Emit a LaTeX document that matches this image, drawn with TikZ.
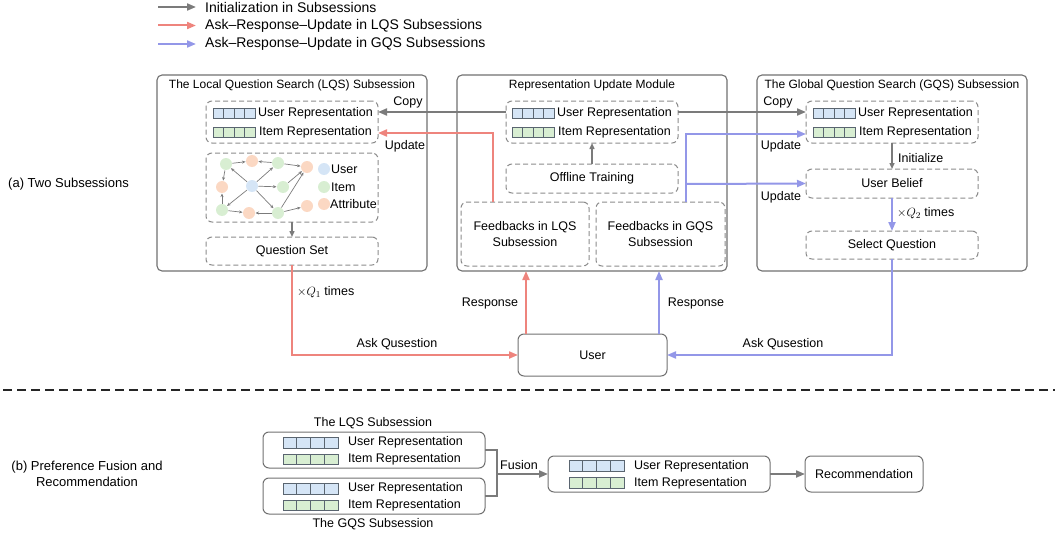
\documentclass[tikz,border=0pt]{standalone}
\usepackage{fontspec}
\setmainfont{Liberation Sans}
\usetikzlibrary{arrows.meta,calc}
\definecolor{cgray}{HTML}{7B7B7B}
\definecolor{cred}{HTML}{EE847D}
\definecolor{cblue}{HTML}{9397E8}
\definecolor{cborder}{HTML}{707070}
\definecolor{cdash}{HTML}{8C8C8C}
\definecolor{fblue}{HTML}{D5E5F6}
\definecolor{fgreen}{HTML}{D8EED2}
\definecolor{forange}{HTML}{FBD8C3}
\definecolor{ccell}{HTML}{5A6570}
\newcommand\mkbox[7]{\node[#6, minimum width={(#4)-(#2)}, minimum height={(#5)-(#3)}] (#1) at ({((#2)+(#4))/2},{((#3)+(#5))/2}) {#7};}
\newcommand\cellbar[5]{\foreach \i in {0,1,2,3}{\draw[cellst, fill=#5] ({#1+\i*#3},#2) rectangle ++(#3,#4);}}
\begin{document}
\begin{tikzpicture}[x=1pt,y=-1pt,
  font=\fontsize{12.5}{15}\selectfont,
  outerbox/.style={draw=cborder, line width=1.1pt, rounded corners=5pt, inner sep=0pt, outer sep=0pt},
  dbox/.style={draw=cdash, dash pattern=on 5pt off 3pt, line width=1pt, rounded corners=6pt, inner sep=0pt, outer sep=0pt, align=center},
  sbox/.style={draw=cborder, line width=1pt, rounded corners=6pt, inner sep=0pt, outer sep=0pt, align=center},
  garr/.style={draw=cgray, line width=2pt, -{Triangle[length=9pt,width=7pt]}},
  gline/.style={draw=cgray, line width=2pt},
  garrthin/.style={draw=cgray, line width=1.4pt, -{Triangle[length=6pt,width=5pt]}},
  rarr/.style={draw=cred, line width=2pt, -{Triangle[length=9pt,width=7pt]}},
  barr/.style={draw=cblue, line width=2pt, -{Triangle[length=9pt,width=7pt]}},
  gedge/.style={draw=cgray, line width=0.7pt, -{Stealth[length=3.5pt,width=3pt]}},
  circ/.style={circle, minimum size=12pt, inner sep=0pt, outer sep=0.5pt},
  cellst/.style={draw=ccell, line width=0.8pt},
  lbl/.style={inner sep=0pt},
  ttl/.style={inner sep=0pt, font=\fontsize{12}{14}\selectfont},
  lgd/.style={inner sep=0pt, anchor=west, font=\fontsize{14}{16}\selectfont},
  side/.style={inner sep=0pt, font=\fontsize{13}{16.5}\selectfont, align=center}
]
\useasboundingbox (0,0) rectangle (1063,535);

% legend
\coordinate (l1a) at (158,7); \coordinate (l1b) at (196,7);
\coordinate (l2a) at (158,25.5); \coordinate (l2b) at (196,25.5);
\coordinate (l3a) at (158,44); \coordinate (l3b) at (196,44);
\draw[garr] (l1a) -- (l1b);
\draw[rarr] (l2a) -- (l2b);
\draw[barr] (l3a) -- (l3b);
\node[lgd] (lg1) at (205,7) {Initialization in Subsessions};
\node[lgd] (lg2) at (205,25.5) {Ask--Response--Update in LQS Subsessions};
\node[lgd] (lg3) at (205,44) {Ask--Response--Update in GQS Subsessions};

% side labels
\node[side, anchor=west] (sa) at (8,184) {(a) Two Subsessions};
\node[side] (sb) at (87,474) {(b) Preference Fusion and\\Recommendation};

% outer boxes
\mkbox{lqs}{157}{75}{427}{271}{outerbox}{}
\mkbox{mid}{457}{75}{727}{271}{outerbox}{}
\mkbox{gqs}{757}{75}{1027}{271}{outerbox}{}
\node[ttl] (tl) at (292,85) {The Local Question Search (LQS) Subsession};
\node[ttl] (tm) at (592,85) {Representation Update Module};
\node[ttl] (tg) at (892,85) {The Global Question Search (GQS) Subsession};

% LQS inner
\mkbox{lqsrep}{206}{101}{378}{143}{dbox}{}
\cellbar{213}{108.5}{10.5}{9.5}{fblue}
\cellbar{213}{127.5}{10.5}{9.5}{fgreen}
\node[lbl, anchor=west] (lu) at (258,113.5) {User Representation};
\node[lbl, anchor=west] (li) at (259,132.5) {Item Representation};
\mkbox{graph}{206}{153}{378}{222}{dbox}{}
\mkbox{qset}{206}{237}{378}{265}{dbox}{Question Set}

% graph nodes
\node[circ, fill=fgreen] (g1) at (226,164) {};
\node[circ, fill=forange] (a1) at (252,161) {};
\node[circ, fill=fgreen] (g2) at (278,163) {};
\node[circ, fill=forange] (a2) at (307,167) {};
\node[circ, fill=forange] (a3) at (222,187) {};
\node[circ, fill=fblue] (u) at (252,186) {};
\node[circ, fill=fgreen] (g3) at (283,187) {};
\node[circ, fill=fgreen] (g4) at (222,210) {};
\node[circ, fill=forange] (a4) at (249,213) {};
\node[circ, fill=fgreen] (g5) at (278,213) {};
\node[circ, fill=forange] (a5) at (307,206) {};
\draw[gedge] (g1) -- (a1);
\draw[gedge] (g2) -- (a1);
\draw[gedge] (g2) -- (a2);
\draw[gedge] (u) -- (g1);
\draw[gedge] (u) -- (g2);
\draw[gedge] (u) -- (g3);
\draw[gedge] (u) -- (g4);
\draw[gedge] (u) -- (g5);
\draw[gedge] (g1) -- (a3);
\draw[gedge] (g4) -- (a3);
\draw[gedge] (g4) -- (a4);
\draw[gedge] (g5) -- (a4);
\draw[gedge] (g3) -- (a2);
\draw[gedge] (g5) -- (a2);
\draw[gedge] (g5) -- (a5);
\node[circ, fill=fblue] (ku) at (324,169) {};
\node[circ, fill=fgreen] (ki) at (324,187) {};
\node[circ, fill=forange] (ka) at (324,204) {};
\node[lbl, anchor=west] (kut) at (331,169) {User};
\node[lbl, anchor=west] (kit) at (331,187) {Item};
\node[lbl, anchor=west] (kat) at (330,204) {Attribute};
\draw[garrthin] (graph.south) -- (qset.north);

% middle inner
\mkbox{midrep}{506}{101}{678}{143}{dbox}{}
\cellbar{512}{108.5}{10.5}{9.5}{fblue}
\cellbar{512}{127.5}{10.5}{9.5}{fgreen}
\node[lbl, anchor=west] (mu) at (557,113.5) {User Representation};
\node[lbl, anchor=west] (mi) at (558,132.5) {Item Representation};
\mkbox{offline}{506}{164}{678}{193}{dbox}{Offline Training}
\mkbox{fbl}{461}{202}{589}{266}{dbox}{Feedbacks in LQS\\[1pt]Subsession}
\mkbox{fbg}{596}{202}{725}{266}{dbox}{Feedbacks in GQS\\[1pt]Subsession}
\draw[garrthin] (offline.north) -- (midrep.south);

% GQS inner
\mkbox{gqsrep}{806}{101}{978}{143}{dbox}{}
\cellbar{813}{108.5}{10.5}{9.5}{fblue}
\cellbar{813}{127.5}{10.5}{9.5}{fgreen}
\node[lbl, anchor=west] (gu) at (858,113.5) {User Representation};
\node[lbl, anchor=west] (gi) at (859,132.5) {Item Representation};
\mkbox{belief}{806}{169}{978}{198}{dbox}{User Belief}
\mkbox{selq}{806}{231}{978}{259}{dbox}{Select Question}
\draw[garrthin] (gqsrep.south) -- (belief.north);
\node[lbl, anchor=west] (init) at (898,158) {Initialize};
\draw[barr] (belief.south) -- (selq.north);
\node[lbl, anchor=west] (q2) at (897,213) {$\times Q_2$ times};

% copy arrows
\draw[garr] (midrep.west |- 0,112) -- (lqsrep.east |- 0,112);
\draw[garr] (midrep.east |- 0,112) -- (gqsrep.west |- 0,112);
\node[lbl] (cp1) at (408,102) {Copy};
\node[lbl] (cp2) at (778,102) {Copy};

% update arrows
\draw[rarr] (fbl.north -| 493,0) |- (lqsrep.east |- 0,133);
\node[lbl] (up1) at (405,146) {Update};
\coordinate (bj) at (686,184);
\draw[barr] (fbg.north -| 686,0) |- (gqsrep.west |- 0,134);
\draw[barr] (bj) -- (belief.west);
\node[lbl] (up2) at (781,146) {Update};
\node[lbl] (up3) at (781,197) {Update};

% user
\mkbox{user}{518}{334}{667}{376}{sbox}{User}
\draw[rarr] (qset.south) |- (user.west);
\node[lbl, anchor=west] (q1) at (297,292) {$\times Q_1$ times};
\node[lbl] (ask1) at (397,344) {Ask Qusestion};
\draw[barr] (selq.south) |- (user.east);
\node[lbl] (ask2) at (783,344) {Ask Qusestion};
\draw[rarr] (user.north -| 526,0) -- (mid.south -| 526,0);
\node[lbl] (rs1) at (490,303) {Response};
\draw[barr] (user.north -| 659,0) -- (mid.south -| 659,0);
\node[lbl] (rs2) at (696,303) {Response};

% separator
\coordinate (sepL) at (3,390); \coordinate (sepR) at (1055,390);
\draw[line width=2.3pt, dash pattern=on 9pt off 5pt, black!85] (sepL) -- (sepR);

% part b
\node[lbl] (tlq) at (373,423) {The LQS Subsession};
\node[lbl] (tgq) at (373,524) {The GQS Subsession};
\mkbox{lqsg}{263}{432}{485}{468}{sbox}{}
\mkbox{gqsg}{263}{478}{485}{514}{sbox}{}
\cellbar{283}{437}{13.75}{11}{fblue}
\cellbar{283}{454}{13.75}{10.5}{fgreen}
\cellbar{283}{483}{13.75}{11}{fblue}
\cellbar{283}{500}{13.75}{10.5}{fgreen}
\node[lbl, anchor=west] (bu1) at (348,442) {User Representation};
\node[lbl, anchor=west] (bi1) at (348,459) {Item Representation};
\node[lbl, anchor=west] (bu2) at (348,488.5) {User Representation};
\node[lbl, anchor=west] (bi2) at (348,505) {Item Representation};
\mkbox{fused}{548}{456}{770}{492}{sbox}{}
\cellbar{569}{460}{13.75}{11.5}{fblue}
\cellbar{569}{477.5}{13.75}{11}{fgreen}
\node[lbl, anchor=west] (fu) at (634,466) {User Representation};
\node[lbl, anchor=west] (fi) at (634,483) {Item Representation};
\mkbox{rec}{805}{456}{923}{492}{sbox}{Recommendation}
\coordinate (fj) at (497,474);
\draw[gline] (lqsg.east) -| (fj);
\draw[gline] (gqsg.east) -| (fj);
\draw[garr] (fj) -- (fused.west);
\node[lbl] (fus) at (519,465) {Fusion};
\draw[garr] (fused.east) -- (rec.west);
\end{tikzpicture}
\end{document}
